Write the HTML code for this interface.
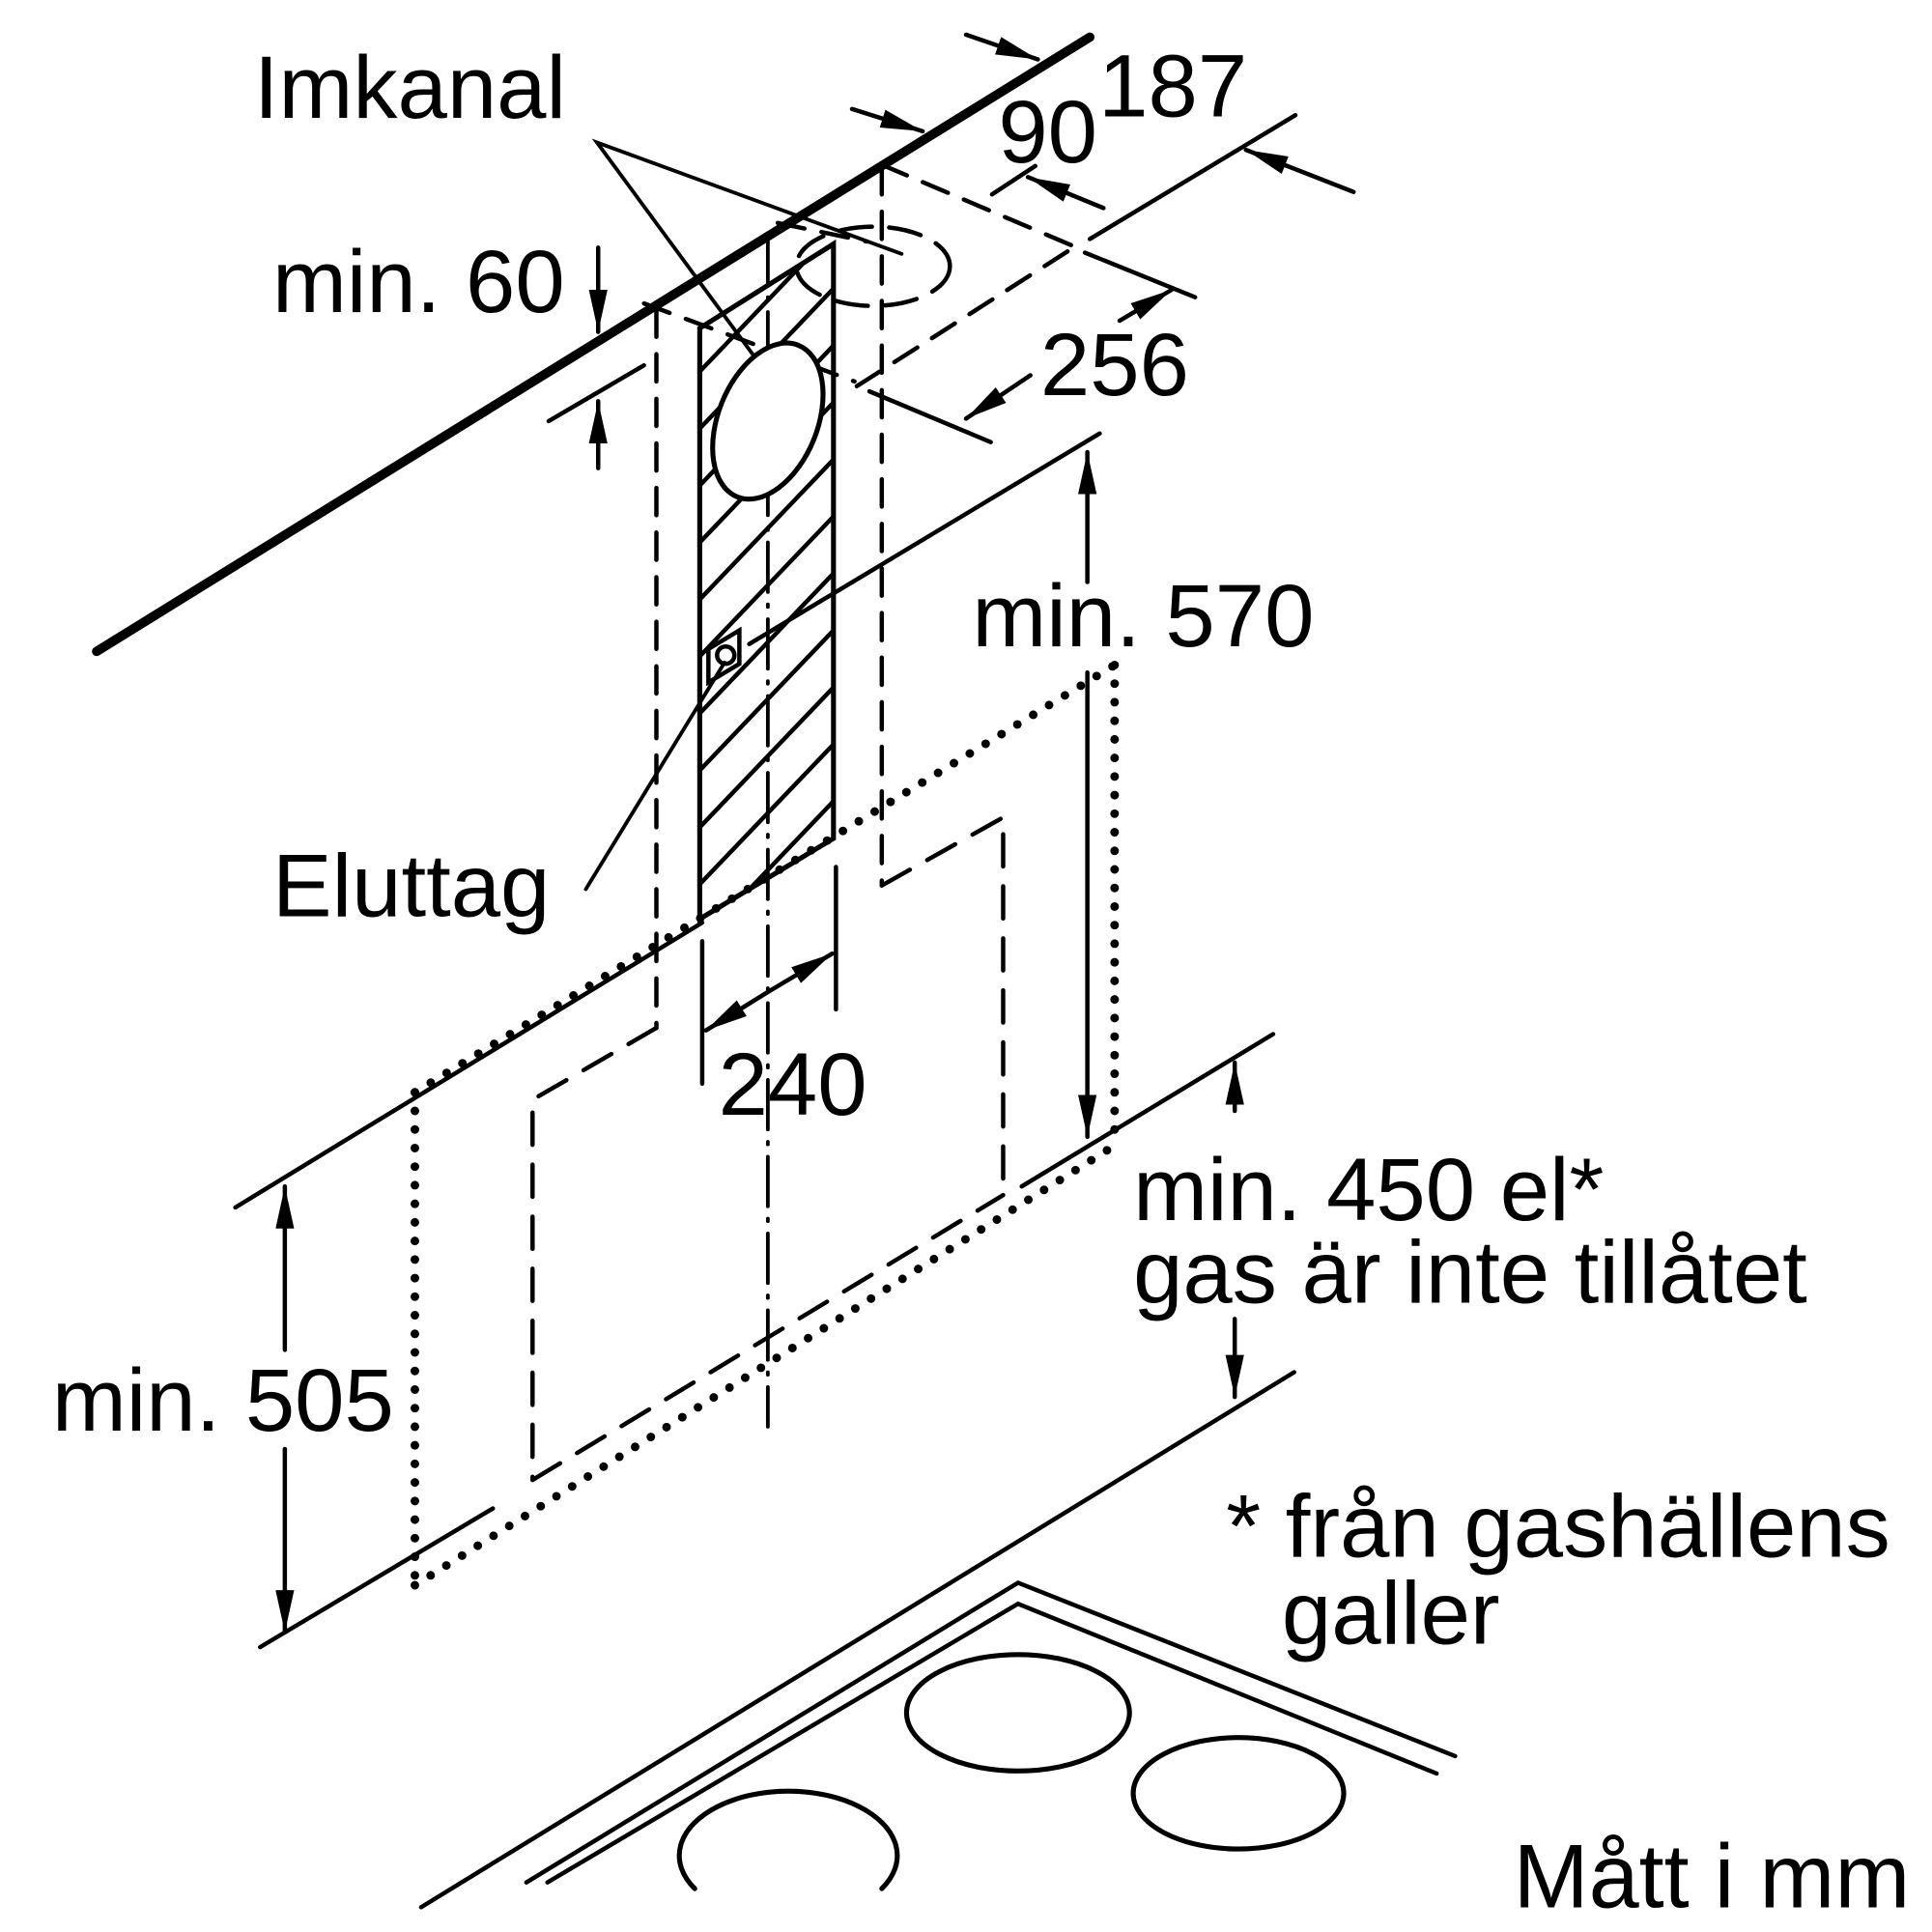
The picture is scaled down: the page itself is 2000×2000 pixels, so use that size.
<!DOCTYPE html>
<html><head><meta charset="utf-8"><style>
html,body{margin:0;padding:0;background:#fff;}
svg{display:block;}
text{font-family:"Liberation Sans",sans-serif;fill:#000;}
</style></head><body>
<svg width="2000" height="2000" viewBox="0 0 1560 1560" xmlns="http://www.w3.org/2000/svg">
<defs>
<marker id="a" viewBox="0 0 34 15" refX="34" refY="7.5" markerWidth="34" markerHeight="15" markerUnits="userSpaceOnUse" orient="auto">
<path d="M0,0 L34,7.5 L0,15 z" fill="#000"/>
</marker>
<clipPath id="rc"><polygon points="565,265 673,197 673,677 565,742"/></clipPath>
</defs>
<rect width="1560" height="1560" fill="#fff"/>
<g stroke="#000" stroke-width="3.5" fill="none" stroke-linecap="round">
<line x1="78" y1="526" x2="880" y2="30" stroke-width="7.5"/>

<polyline points="618,300 482,115 728,205" stroke-width="3"/>

<line x1="712" y1="133" x2="865" y2="198" stroke-dasharray="22,14"/>
<line x1="862" y1="203" x2="690" y2="313" stroke-dasharray="22,14"/>
<line x1="876" y1="204" x2="965" y2="240"/>
<line x1="702" y1="316" x2="800" y2="357"/>
<line x1="520" y1="245" x2="690" y2="308" stroke-dasharray="22,14"/>
<line x1="628" y1="180" x2="700" y2="195" stroke-dasharray="22,14"/>
<ellipse cx="705" cy="215" rx="62" ry="32" stroke-dasharray="26,14"/>
<line x1="880" y1="193" x2="1046" y2="93"/>
<line x1="801" y1="157" x2="836" y2="134"/>

<line x1="780" y1="28" x2="838" y2="48" marker-end="url(#a)"/>
<line x1="688" y1="88" x2="745" y2="106" marker-end="url(#a)"/>
<line x1="1093" y1="155" x2="1006" y2="121" marker-end="url(#a)"/>
<line x1="891" y1="168" x2="830" y2="143" marker-end="url(#a)"/>
<line x1="904" y1="259" x2="946" y2="234" marker-end="url(#a)"/>
<line x1="832" y1="303" x2="780" y2="338" marker-end="url(#a)"/>

<line x1="483" y1="200" x2="483" y2="268" marker-end="url(#a)"/>
<line x1="483" y1="378" x2="483" y2="324" marker-end="url(#a)"/>
<line x1="443" y1="340" x2="520" y2="295"/>

<line x1="530" y1="250" x2="530" y2="830" stroke-dasharray="22,14"/>
<line x1="712" y1="135" x2="712" y2="715" stroke-dasharray="22,14"/>
<line x1="620" y1="190" x2="620" y2="1152" stroke-dasharray="40,10,2,10" stroke-width="3"/>

<g clip-path="url(#rc)" stroke-width="3.5">
<line x1="565" y1="300" x2="673" y2="187"/>
<line x1="565" y1="346" x2="673" y2="233"/>
<line x1="565" y1="392" x2="673" y2="279"/>
<line x1="565" y1="438" x2="673" y2="325"/>
<line x1="565" y1="484" x2="673" y2="371"/>
<line x1="565" y1="530" x2="673" y2="417"/>
<line x1="565" y1="576" x2="673" y2="463"/>
<line x1="565" y1="622" x2="673" y2="509"/>
<line x1="565" y1="668" x2="673" y2="555"/>
<line x1="565" y1="714" x2="673" y2="601"/>
<line x1="565" y1="760" x2="673" y2="647"/>
<line x1="565" y1="806" x2="673" y2="693"/>
</g>
<polygon points="565,265 673,197 673,677 565,742" stroke-width="4"/>
<ellipse cx="620" cy="340" rx="40" ry="66" transform="rotate(22 620 340)" fill="#fff" stroke-width="4"/>
<polygon points="572,524 597,509 597,536 572,551" fill="#fff"/>
<circle cx="586" cy="529" r="7"/>
<line x1="473" y1="718" x2="585" y2="535" stroke-width="3"/>
<line x1="605" y1="520" x2="888" y2="350"/>

<line x1="190" y1="975" x2="567" y2="745"/>
<line x1="210" y1="1330" x2="398" y2="1218"/>
<line x1="825" y1="958" x2="1028" y2="835"/>
<line x1="340" y1="1540" x2="1045" y2="1108"/>

<polyline points="712,715 810,660 810,965" stroke-dasharray="26,16"/>
<polyline points="530,830 430,888 430,1195" stroke-dasharray="26,16"/>
<line x1="430" y1="1195" x2="810" y2="965" stroke-dasharray="26,16"/>

<g stroke-width="7" stroke-dasharray="0,15">
<line x1="335" y1="882" x2="900" y2="537"/>
<line x1="900" y1="537" x2="900" y2="925"/>
<line x1="335" y1="882" x2="335" y2="1280"/>
<line x1="335" y1="1280" x2="900" y2="925"/>
</g>

<line x1="567" y1="760" x2="567" y2="875"/>
<line x1="675" y1="700" x2="675" y2="815"/>
<line x1="620" y1="801" x2="672" y2="770" marker-end="url(#a)"/>
<line x1="620" y1="801" x2="570" y2="832" marker-end="url(#a)"/>

<line x1="878" y1="470" x2="878" y2="365" marker-end="url(#a)"/>
<line x1="878" y1="543" x2="878" y2="918" marker-end="url(#a)"/>
<line x1="997" y1="897" x2="997" y2="858" marker-end="url(#a)"/>
<line x1="997" y1="1065" x2="997" y2="1128" marker-end="url(#a)"/>
<line x1="230" y1="1090" x2="230" y2="958" marker-end="url(#a)"/>
<line x1="230" y1="1170" x2="230" y2="1318" marker-end="url(#a)"/>

<polyline points="425,1520 822,1278 1175,1418"/>
<polyline points="442,1520 822,1295 1160,1432"/>
<ellipse cx="822" cy="1383" rx="90" ry="47" stroke-width="4"/>
<ellipse cx="1000" cy="1448" rx="85" ry="45" stroke-width="4"/>
<path d="M561,1525 A88,52 0 1 1 712,1525" stroke-width="4"/>
</g>

<g font-size="72">
<text x="205" y="95">Imkanal</text>
<text x="887" y="94">187</text>
<text x="806" y="131">90</text>
<text x="220" y="252">min. 60</text>
<text x="840" y="319">256</text>
<text x="785" y="522">min. 570</text>
<text x="220" y="740">Eluttag</text>
<text x="580" y="900">240</text>
<text x="915" y="985">min. 450 el*</text>
<text x="915" y="1052">gas är inte tillåtet</text>
<text x="42" y="1155">min. 505</text>
<text x="990" y="1257">* från gashällens</text>
<text x="1035" y="1327">galler</text>
<text x="1222" y="1540" font-size="73">Mått i mm</text>
</g>
</svg>
</body></html>
